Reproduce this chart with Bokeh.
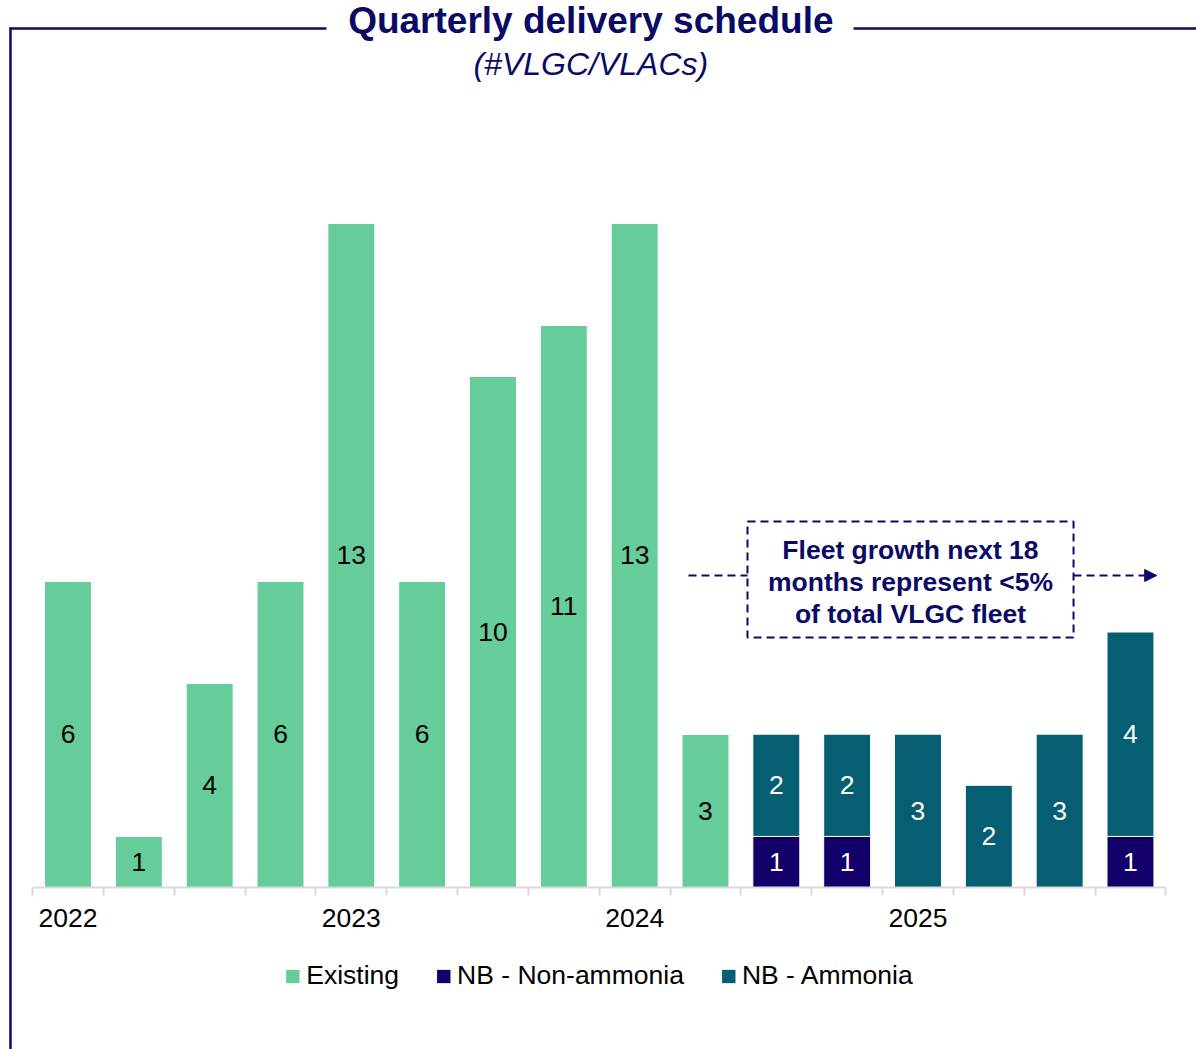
from bokeh.plotting import figure
from bokeh.models import (Range1d, LinearAxis, FixedTicker, Legend, LegendItem,
                          ColumnDataSource, BoxAnnotation, Arrow, NormalHead)
from bokeh.core.properties import value
from bokeh.embed import file_html
from bokeh.resources import INLINE

# ---------------- data ----------------
quarters = list(range(16))
existing = [6, 1, 4, 6, 13, 6, 10, 11, 13, 3, 0, 0, 0, 0, 0, 0]
nb_non_ammonia = [0, 0, 0, 0, 0, 0, 0, 0, 0, 0, 1, 1, 0, 0, 0, 1]
nb_ammonia = [0, 0, 0, 0, 0, 0, 0, 0, 0, 0, 2, 2, 3, 2, 3, 4]
year_ticks = [0, 4, 8, 12]
year_labels = ["2022", "2023", "2024", "2025"]
series_names = ["Existing", "NB - Non-ammonia", "NB - Ammonia"]
title_text = "Quarterly delivery schedule"
subtitle_text = "(#VLGC/VLACs)"
note_lines = ["Fleet growth next 18", "months represent <5%", "of total VLGC fleet"]

# ---------------- styles ----------------
colors = ["#66CC99", "#14006A", "#065E72"]
label_colors = ["#000000", "#FFFFFF", "#FFFFFF"]
navy = "#0B0B66"
FONT = "Liberation Sans"
FS = "26.5px"

src = ColumnDataSource(dict(q=quarters, existing=existing,
                            non=nb_non_ammonia, amm=nb_ammonia))

p = figure(width=1196, height=1049, output_backend="svg", toolbar_location=None,
           x_range=Range1d(-0.953, 15.932), y_range=Range1d(-3.170, 17.358),
           x_axis_location=None, y_axis_location=None,
           min_border_left=0, min_border_right=0, min_border_top=0,
           min_border_bottom=0)
p.outline_line_color = None
p.grid.visible = False
p.background_fill_color = "white"
p.border_fill_color = "white"

renderers = p.vbar_stack(["existing", "non", "amm"], x="q", width=0.663,
                         source=src, fill_color=colors,
                         line_color="white", line_width=1)

# segment labels
lx, ly, lt, lc = [], [], [], []
for i in quarters:
    base = 0
    for vals, col in ((existing, label_colors[0]), (nb_non_ammonia, label_colors[1]),
                      (nb_ammonia, label_colors[2])):
        v = vals[i]
        if v:
            lx.append(i)
            ly.append(base + v / 2)
            lt.append(str(v))
            lc.append(col)
        base += v
p.text(x=lx, y=ly, text=lt, text_color=lc, text_font=value(FONT),
       text_font_size=FS, text_align="center", text_baseline="middle")

# x axis (drawn at y = 0 inside the frame)
minor = [i - 0.5 for i in range(17)]
xaxis = LinearAxis(ticker=FixedTicker(ticks=year_ticks, minor_ticks=minor),
                   major_label_overrides={t: l for t, l in zip(year_ticks, year_labels)},
                   bounds=(-0.5, 15.5), fixed_location=0)
xaxis.axis_line_color = "#D9D9D9"
xaxis.axis_line_width = 2
xaxis.major_tick_out = 0
xaxis.major_tick_in = 0
xaxis.minor_tick_out = 8
xaxis.minor_tick_in = 0
xaxis.minor_tick_line_color = "#D9D9D9"
xaxis.minor_tick_line_width = 2
xaxis.major_label_standoff = 13
xaxis.major_label_text_font = FONT
xaxis.major_label_text_font_size = FS
xaxis.major_label_text_color = "black"
p.add_layout(xaxis, "below")

# legend
legend = Legend(items=[LegendItem(label=n, renderers=[r]) for n, r in zip(series_names, renderers)],
                orientation="horizontal", location="bottom_center",
                glyph_width=18, glyph_height=18, label_standoff=5, spacing=35,
                padding=0, margin=58, border_line_color=None,
                background_fill_alpha=0,
                label_text_font=FONT, label_text_font_size=FS,
                label_text_color="black")
p.add_layout(legend, "center")

# title and subtitle
p.text(x=[7.381], y=[16.967], text=[title_text], text_font=value(FONT),
       text_font_style="bold", text_font_size="37px", text_color=navy,
       text_align="center", text_baseline="middle")
p.text(x=[7.381], y=[16.106], text=[subtitle_text], text_font=value(FONT),
       text_font_style="italic", text_font_size="32px", text_color=navy,
       text_align="center", text_baseline="middle")

# frame lines
p.segment(x0=[-0.826, 11.09, -0.812], y0=[16.81, 16.81, 16.83],
          x1=[3.649, 15.932, -0.812], y1=[16.81, 16.81, -3.170],
          line_color=navy, line_width=2.5)

# annotation box
p.add_layout(BoxAnnotation(left=9.593, right=14.196, bottom=4.892, top=7.162,
                           fill_color=None, fill_alpha=0, line_color=navy,
                           line_alpha=1, line_dash="8 5", line_width=2))
p.add_layout(Arrow(x_start=8.76, y_start=6.106, x_end=9.593, y_end=6.106, end=None,
                   line_color=navy, line_width=2, line_dash="8 5"))
p.add_layout(Arrow(x_start=14.196, y_start=6.106, x_end=15.37, y_end=6.106,
                   end=NormalHead(size=12, fill_color=navy, line_color=navy),
                   line_color=navy, line_width=2, line_dash="8 5"))
p.text(x=[11.894] * 3, y=[6.614, 5.988, 5.362], text=note_lines,
       text_font=value(FONT), text_font_style="bold", text_font_size=FS,
       text_color=navy, text_align="center", text_baseline="middle")

open("out.html", "w").write(file_html(p, INLINE))
